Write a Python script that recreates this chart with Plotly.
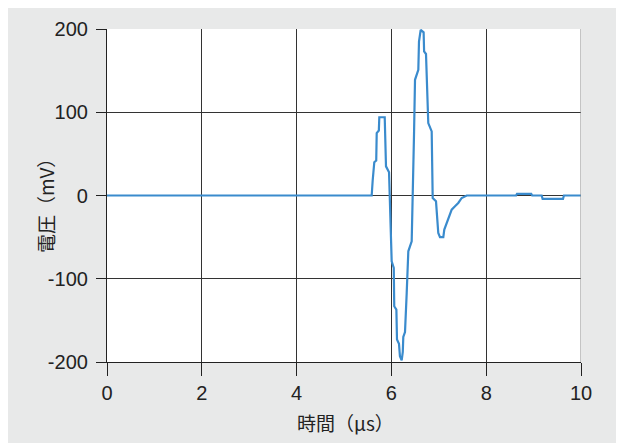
import plotly.graph_objects as go

# Waveform data (time in µs, voltage in mV)
time_us = [0, 5.584, 5.605, 5.639, 5.680, 5.690, 5.735, 5.745, 5.859, 5.866, 5.886,
           5.950, 5.960, 5.970, 6.006, 6.050, 6.060, 6.105, 6.118, 6.160, 6.180,
           6.217, 6.240, 6.251, 6.287, 6.323, 6.357, 6.428, 6.462, 6.477, 6.498,
           6.568, 6.582, 6.618, 6.680, 6.690, 6.730, 6.757, 6.778, 6.850, 6.871,
           6.941, 6.968, 6.989, 7.025, 7.095, 7.116, 7.167, 7.215, 7.272, 7.342,
           7.411, 7.483, 7.589, 8.630, 8.650, 8.950, 8.970, 9.170, 9.190, 9.620,
           9.640, 10.0]
voltage_mv = [0, 0, 18, 40, 42, 75, 78, 94, 94, 75, 35,
              28, 10, -20, -79, -87, -133, -137, -173, -178, -193,
              -198, -188, -170, -164, -117, -67, -55, 19, 73, 139,
              151, 185, 199, 196, 173, 170, 127, 87, 77, -3,
              -7, -31, -45, -50, -50, -41, -33, -25, -17, -13,
              -9, -3, 0, 0, 2, 2, 0, 0, -4, -4,
              0, 0]

x_ticks = [0, 2, 4, 6, 8, 10]
x_tick_labels = ["0", "2", "4", "6", "8", "10"]
y_ticks = [-200, -100, 0, 100, 200]
y_tick_labels = ["-200", "-100", "0", "100", "200"]
x_title = "時間（μs）"
y_title = "電圧（mV）"

fig = go.Figure()
fig.add_trace(go.Scatter(x=time_us, y=voltage_mv, mode="lines",
                         line=dict(color="#3a8bcd", width=2.2), showlegend=False))

num_font = dict(family="Liberation Sans, Arial, sans-serif", size=20, color="#222222")
cjk_font = dict(family="Noto Sans CJK JP, sans-serif", size=19, color="#222222")

fig.update_layout(
    width=624, height=443,
    margin=dict(l=99, r=51, t=21, b=89),
    paper_bgcolor="#e8e9e9",
    plot_bgcolor="#ffffff",
    xaxis=dict(range=[0, 10], tickvals=x_ticks, ticktext=x_tick_labels,
               ticks="outside", ticklen=13,
               tickcolor="#222222", tickwidth=1.2,
               showline=True, linecolor="#222222", linewidth=1.2,
               showgrid=True, gridcolor="#333333", gridwidth=1,
               zeroline=False, tickfont=num_font, automargin=False),
    yaxis=dict(range=[-200, 200], tickvals=y_ticks, ticktext=y_tick_labels,
               ticks="outside", ticklen=10, ticklabelstandoff=4,
               tickcolor="#222222", tickwidth=1.2,
               showline=True, linecolor="#222222", linewidth=1.2,
               showgrid=True, gridcolor="#333333", gridwidth=1,
               zeroline=False, tickfont=num_font, automargin=False),
    annotations=[
        dict(text=x_title, xref="paper", yref="paper", x=0.5, y=0,
             xanchor="center", yanchor="middle", yshift=-60, xshift=1,
             showarrow=False, font=cjk_font),
        dict(text=y_title, xref="paper", yref="paper", x=0, y=0.5,
             xanchor="center", yanchor="middle", xshift=-61.5, yshift=-6,
             textangle=-90, showarrow=False, font=cjk_font),
    ],
)
# right border of plot area (grid-like line at x=10)
fig.add_shape(type="line", xref="x", yref="paper", x0=10, x1=10, y0=0, y1=1,
              line=dict(color="#888888", width=1))

fig.write_html("out.html")
